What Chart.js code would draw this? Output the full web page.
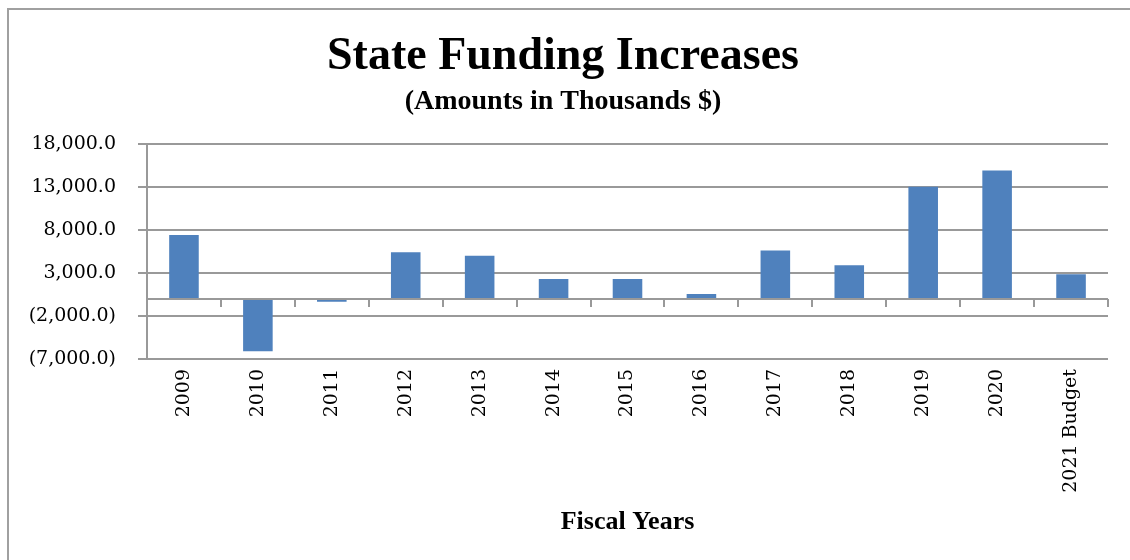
<!DOCTYPE html>
<html>
<head>
<meta charset="utf-8">
<script src="https://cdn.jsdelivr.net/npm/chart.js@4.4.1/dist/chart.umd.min.js"></script>
<style>
  html, body { margin: 0; padding: 0; background: #fff; overflow: hidden; }
  .frame {
    position: absolute; left: 7px; top: 8px; width: 1140px; height: 570px;
    border: 2px solid #a0a0a0; box-sizing: border-box;
  }
  #chart { position: absolute; left: 0; top: 0; }
</style>
</head>
<body>
<div class="frame"></div>
<canvas id="chart" width="1130" height="560"></canvas>
<script>
const years = ["2009", "2010", "2011", "2012", "2013", "2014", "2015",
  "2016", "2017", "2018", "2019", "2020", "2021 Budget"];
const increases = [7400, -6100, -350, 5400, 5000, 2300, 2300,
  550, 5600, 3900, 13000, 14900, 2850];
const yMin = -7000;
const yMax = 18000;
const yStep = 5000;

const GRID = "#999999";
const BAR = "#4F81BD";

function fmt(v) {
  const s = Math.abs(v).toLocaleString("en-US", { minimumFractionDigits: 1, maximumFractionDigits: 1 });
  return v < 0 ? "(" + s + ")" : s;
}

// axis line at zero with tick marks between the categories
const zeroAxis = {
  id: "zeroAxis",
  afterDatasetsDraw(chart) {
    const { ctx, chartArea, scales } = chart;
    const y0 = Math.round(scales.y.getPixelForValue(0));
    const n = chart.data.labels.length;
    const step = (chartArea.right - chartArea.left) / n;
    ctx.save();
    ctx.strokeStyle = GRID;
    ctx.lineWidth = 2;
    ctx.beginPath();
    ctx.moveTo(chartArea.left, y0);
    ctx.lineTo(chartArea.right, y0);
    for (let i = 1; i <= n; i++) {
      const x = Math.round(chartArea.left + i * step);
      ctx.moveTo(x, y0);
      ctx.lineTo(x, y0 + 8);
    }
    ctx.stroke();
    ctx.restore();
  }
};

new Chart(document.getElementById("chart"), {
  type: "bar",
  data: {
    labels: years,
    datasets: [{
      data: increases,
      backgroundColor: BAR,
      categoryPercentage: 1,
      barPercentage: 0.4
    }]
  },
  options: {
    responsive: false,
    animation: false,
    devicePixelRatio: 1,
    layout: { padding: { left: 18, right: 22, top: 0, bottom: 22 } },
    plugins: {
      legend: { display: false },
      tooltip: { enabled: false },
      title: {
        display: true,
        text: "State Funding Increases",
        color: "#000",
        font: { family: "Liberation Serif", size: 46, weight: "bold" },
        padding: { top: 30, bottom: 0 }
      },
      subtitle: {
        display: true,
        text: "(Amounts in Thousands $)",
        color: "#000",
        font: { family: "Liberation Serif", size: 28, weight: "bold" },
        padding: { top: 0, bottom: 25 }
      }
    },
    scales: {
      x: {
        grid: { display: false, drawTicks: false },
        border: { display: false },
        ticks: {
          color: "#000",
          font: { family: "DejaVu Serif", size: 19 },
          minRotation: 90,
          maxRotation: 90,
          padding: 10
        },
        title: {
          display: true,
          text: "Fiscal Years",
          color: "#000",
          font: { family: "Liberation Serif", size: 26, weight: "bold" },
          padding: { top: 4, bottom: 0 }
        }
      },
      y: {
        min: yMin,
        max: yMax,
        afterFit(scale) { scale.width = 129; },
        ticks: {
          stepSize: yStep,
          color: "#000",
          font: { family: "DejaVu Serif", size: 19 },
          padding: 22,
          callback: (v) => fmt(v)
        },
        grid: { color: GRID, lineWidth: 2, tickLength: 9 },
        border: { display: true, color: GRID, width: 2 }
      }
    }
  },
  plugins: [zeroAxis]
});
</script>
</body>
</html>
